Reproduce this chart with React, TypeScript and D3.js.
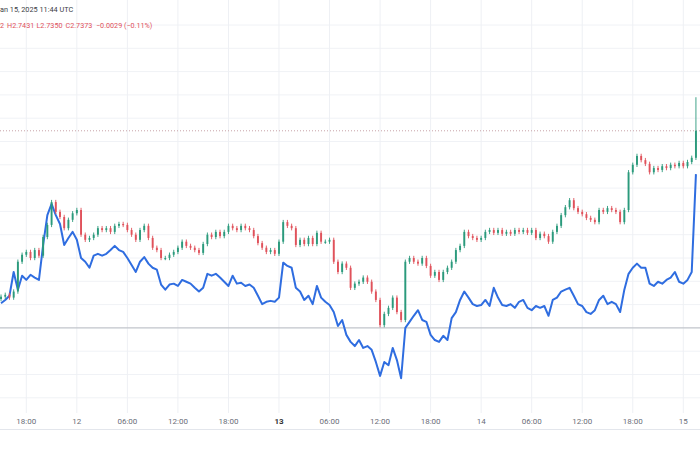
import React from "react";
import * as d3 from "d3";

// ---- data ----
const startTime = new Date(Date.UTC(2025, 0, 11, 15, 0));
const candleMinutes = 30;
const firstOpen = 2.7012;
const candleCloses = [
  2.7017, 2.7021, 2.7015, 2.7028, 2.7092, 2.7107, 2.7113, 2.71, 2.7117, 2.7105,
  2.7145, 2.7171, 2.722, 2.7199, 2.7188, 2.7164, 2.7182, 2.7196, 2.7203, 2.715,
  2.7139, 2.7143, 2.715, 2.7164, 2.716, 2.7164, 2.7156, 2.7169, 2.7173, 2.7171,
  2.716, 2.715, 2.7139, 2.716, 2.7169, 2.7143, 2.7122, 2.7117, 2.71, 2.71,
  2.7107, 2.7113, 2.7122, 2.7135, 2.7126, 2.7122, 2.7117, 2.7111, 2.713, 2.715,
  2.7145, 2.7156, 2.7147, 2.7156, 2.7169, 2.7164, 2.716, 2.7169, 2.7164, 2.716,
  2.7147, 2.7132, 2.7122, 2.7113, 2.7117, 2.7109, 2.7135, 2.7177, 2.7169, 2.7164,
  2.7128, 2.7139, 2.713, 2.7143, 2.713, 2.7154, 2.7135, 2.7135, 2.7139, 2.7092,
  2.707, 2.7088, 2.7079, 2.7036, 2.7045, 2.7049, 2.7058, 2.7049, 2.7028, 2.701,
  2.6956, 2.698, 2.6993, 2.7015, 2.6984, 2.6967, 2.7092, 2.71, 2.7092, 2.7088,
  2.71, 2.7083, 2.7062, 2.707, 2.7053, 2.707, 2.7079, 2.7092, 2.7117, 2.7126,
  2.7156, 2.7147, 2.7143, 2.7139, 2.7143, 2.7156, 2.716, 2.7154, 2.716, 2.7152,
  2.7156, 2.7152, 2.716, 2.7156, 2.716, 2.7154, 2.716, 2.7143, 2.7152, 2.7147,
  2.7135, 2.7156, 2.7169, 2.7192, 2.7209, 2.7224, 2.7207, 2.7199, 2.7194, 2.7186,
  2.7182, 2.7177, 2.7203, 2.7199, 2.7207, 2.7203, 2.7199, 2.7177, 2.7203, 2.7284,
  2.73, 2.7319, 2.731, 2.7302, 2.7284, 2.7293, 2.7289, 2.7297, 2.7293, 2.73,
  2.7297, 2.7304, 2.7297, 2.7306, 2.7315, 2.7373,
];
const lastHigh = 2.7445;
const compareValues = [
  2.7003, 2.701, 2.7019, 2.707, 2.7032, 2.7062, 2.7053, 2.7064, 2.7058, 2.7053,
  2.7128, 2.7192, 2.7216, 2.7192, 2.7173, 2.7128, 2.7143, 2.7156, 2.7139, 2.71,
  2.7092, 2.7079, 2.7105, 2.7109, 2.7105, 2.7109, 2.7117, 2.7126, 2.7117, 2.7113,
  2.71, 2.7085, 2.707, 2.7092, 2.7102, 2.7088, 2.7079, 2.7075, 2.7043, 2.7032,
  2.7043, 2.7045, 2.704, 2.7053, 2.7049, 2.7045, 2.7036, 2.7028, 2.7036, 2.7066,
  2.7062, 2.7066, 2.7058, 2.7049, 2.704, 2.7062, 2.7045, 2.7047, 2.704, 2.7043,
  2.7036, 2.7019, 2.7001, 2.7006, 2.7008, 2.7006, 2.7015, 2.709, 2.7083, 2.7079,
  2.7036, 2.7028, 2.701, 2.7019, 2.7001, 2.704, 2.7015, 2.7006, 2.6999, 2.6984,
  2.6954, 2.6967, 2.6935, 2.692, 2.6911, 2.6924, 2.6907, 2.6911, 2.6903, 2.6877,
  2.6847, 2.6877, 2.687, 2.6907, 2.6881, 2.6842, 2.695, 2.6963, 2.6976, 2.6988,
  2.6967, 2.6963, 2.6935, 2.6924, 2.692, 2.6933, 2.6924, 2.6971, 2.6984, 2.701,
  2.7028, 2.7015, 2.7001, 2.6997, 2.6999, 2.701, 2.6997, 2.7036, 2.7015, 2.6999,
  2.6997, 2.7001, 2.6993, 2.7006, 2.701, 2.6993, 2.6988, 2.6997, 2.6993, 2.6997,
  2.6976, 2.701, 2.7015, 2.7028, 2.7032, 2.7036, 2.7019, 2.7001, 2.6997, 2.6984,
  2.698, 2.6988, 2.701, 2.7019, 2.7001, 2.7006, 2.7001, 2.6984, 2.7032, 2.7066,
  2.7079, 2.7088, 2.7079, 2.7079, 2.7045, 2.704, 2.7049, 2.7045, 2.7053, 2.7058,
  2.707, 2.7049, 2.7045, 2.7053, 2.707, 2.728,
];
const lastPrice = 2.7373;
const baselineValue = 2.695;
const priceGridTop = 2.76;
const priceGridBottom = 2.68;
const priceGridStep = 0.005;
const xTickLabels = ["18:00", "12", "06:00", "12:00", "18:00", "13", "06:00", "12:00", "18:00", "14", "06:00", "12:00", "18:00", "15"];
const boldTicks = ["13"];
const headerDate = "an 15, 2025 11:44 UTC";
const headerParts = ["2", "H2.7431", "L2.7350", "C2.7373", "\u22120.0029 (\u22120.11%)"];

const W = 700;
const H = 450;
const paneBottom = 413;
const font = "Roboto, 'Liberation Sans', sans-serif";

export default function App() {
  const times = candleCloses.map((_, i) => d3.utcMinute.offset(startTime, i * candleMinutes));
  const tickStart = new Date(Date.UTC(2025, 0, 11, 18, 0));
  const tickEnd = new Date(Date.UTC(2025, 0, 15, 0, 0));
  const x = d3.scaleUtc().domain([tickStart, tickEnd]).range([26.3, 683.3]);
  const y = d3.scaleLinear().domain([priceGridTop, priceGridBottom]).range([25, 25 + 16 * 23.3]);

  const tickTimes = xTickLabels.map((_, i) => d3.utcHour.offset(tickStart, i * 6));
  const gridVals = d3.range(0, Math.round((priceGridTop - priceGridBottom) / priceGridStep) + 1).map(
    (k) => priceGridTop - k * priceGridStep
  );

  const opens = candleCloses.map((c, i) => (i === 0 ? firstOpen : candleCloses[i - 1]));
  const bodyW = 1.9;

  const line = d3
    .line<number>()
    .x((_, i) => x(times[i]))
    .y((d) => y(d));

  return (
    <svg width={W} height={H} style={{ position: "absolute", left: 0, top: 0, background: "#fff" }}>
      <rect x={0} y={0} width={W} height={H} fill="#ffffff" />
      {/* grid */}
      {gridVals.map((v, i) => (
        <line key={"h" + i} x1={0} x2={W} y1={y(v)} y2={y(v)} stroke="#f0f2f6" strokeWidth={1} />
      ))}
      {tickTimes.map((t, i) => (
        <line key={"v" + i} x1={x(t)} x2={x(t)} y1={0} y2={paneBottom} stroke="#eef0f4" strokeWidth={1} />
      ))}
      {/* baseline */}
      <line x1={0} x2={W} y1={y(baselineValue)} y2={y(baselineValue)} stroke="#b9bcc2" strokeWidth={1} />
      {/* last price dotted line */}
      <line
        x1={0}
        x2={W}
        y1={y(lastPrice)}
        y2={y(lastPrice)}
        stroke="#c7a2a8"
        strokeWidth={1}
        strokeDasharray="1,2"
      />
      {/* compare line */}
      <path d={line(compareValues) || ""} fill="none" stroke="#2f6de0" strokeWidth={2} strokeLinejoin="round" />
      {/* candles */}
      {candleCloses.map((c, i) => {
        const o = opens[i];
        const up = c >= o;
        const col = up ? "#2b9a7c" : "#e0525b";
        const cx = x(times[i]);
        const top = y(Math.max(o, c));
        const bot = y(Math.min(o, c));
        const hi = i === candleCloses.length - 1 ? y(lastHigh) : top - 2.2;
        return (
          <g key={"c" + i}>
            <line x1={cx} x2={cx} y1={hi} y2={bot + 2.2} stroke={col} strokeWidth={0.9} />
            <rect x={cx - bodyW / 2} y={top} width={bodyW} height={Math.max(1.2, bot - top)} fill={col} />
          </g>
        );
      })}
      {/* time axis */}
      {tickTimes.map((t, i) => (
        <text
          key={"t" + i}
          x={x(t)}
          y={423.5}
          textAnchor="middle"
          fontFamily={font}
          fontSize={8}
          fontWeight={boldTicks.includes(xTickLabels[i]) ? 700 : 400}
          fill={boldTicks.includes(xTickLabels[i]) ? "#333" : "#6a6d78"}
        >
          {xTickLabels[i]}
        </text>
      ))}
      <line x1={0} x2={W} y1={429.5} y2={429.5} stroke="#e3e6ec" strokeWidth={1} />
      {/* header */}
      <text x={0} y={11.5} fontFamily={font} fontSize={7.3} fill="#3a3d45">
        {headerDate}
      </text>
      <text x={0} y={27.5} fontFamily={font} fontSize={7.2} fill="#e0525b">
        <tspan x={0}>{headerParts[0]}</tspan>
        <tspan x={7}>{headerParts[1]}</tspan>
        <tspan x={36.5}>{headerParts[2]}</tspan>
        <tspan x={65.5}>{headerParts[3]}</tspan>
        <tspan x={96}>{headerParts[4]}</tspan>
      </text>
    </svg>
  );
}
